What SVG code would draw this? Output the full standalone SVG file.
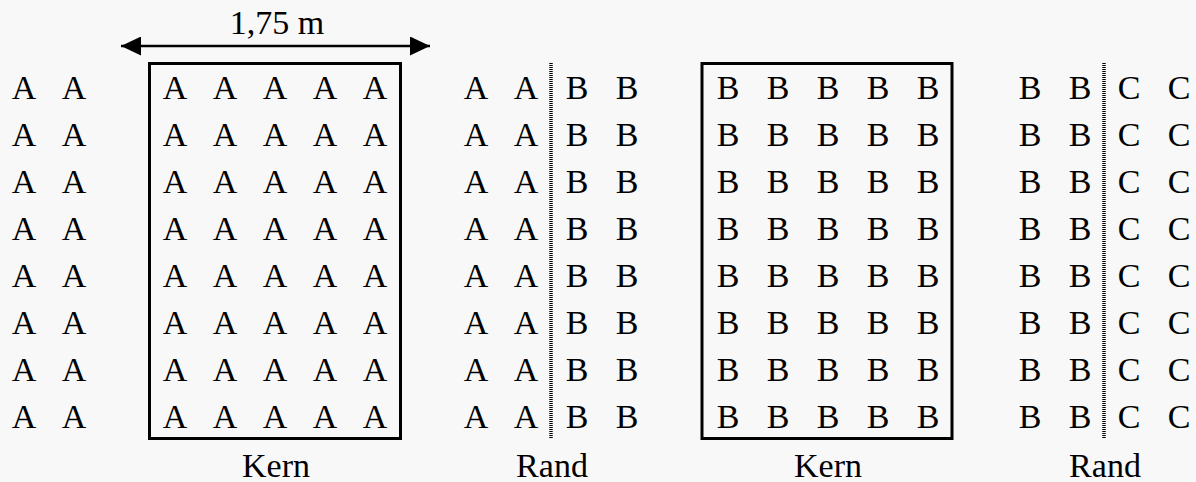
<svg xmlns="http://www.w3.org/2000/svg" width="1196" height="482" viewBox="0 0 1196 482">
  <style>
    text { font-family: "Liberation Serif", "Times New Roman", serif; font-size: 34px; fill: #000; text-anchor: middle; }
    .box { fill: none; stroke: #000; stroke-width: 3; }
    .divider { stroke: #000; stroke-width: 3.5; stroke-dasharray: 1 1; }
    .dim { stroke: #000; stroke-width: 2.5; }
  </style>
  <defs>
    <marker id="arrowhead" viewBox="0 0 20 19" refX="20" refY="9.5" markerWidth="20" markerHeight="19" markerUnits="userSpaceOnUse" orient="auto-start-reverse">
      <path d="M0 0 L20 9.5 L0 19 Z" fill="#000"/>
    </marker>
  </defs>
  <rect width="1196" height="482" fill="#f8f8f8"/>

  <!-- dimension line over the first core plot -->
  <g id="dimension">
    <line class="dim" x1="121" y1="46" x2="430" y2="46" marker-start="url(#arrowhead)" marker-end="url(#arrowhead)"/>
    <text x="277" y="34">1,75 m</text>
  </g>

  <!-- outer border rows A -->
  <g id="border-a">
    <text x="24 74" y="99">AA</text>
    <text x="24 74" y="146">AA</text>
    <text x="24 74" y="193">AA</text>
    <text x="24 74" y="240">AA</text>
    <text x="24 74" y="287">AA</text>
    <text x="24 74" y="334">AA</text>
    <text x="24 74" y="381">AA</text>
    <text x="24 74" y="428">AA</text>
  </g>

  <!-- core plot A -->
  <g id="kern-a">
    <rect class="box" x="149.5" y="63.5" width="251" height="375"/>
    <text x="175 225 275 325 375" y="99">AAAAA</text>
    <text x="175 225 275 325 375" y="146">AAAAA</text>
    <text x="175 225 275 325 375" y="193">AAAAA</text>
    <text x="175 225 275 325 375" y="240">AAAAA</text>
    <text x="175 225 275 325 375" y="287">AAAAA</text>
    <text x="175 225 275 325 375" y="334">AAAAA</text>
    <text x="175 225 275 325 375" y="381">AAAAA</text>
    <text x="175 225 275 325 375" y="428">AAAAA</text>
    <text x="276" y="477">Kern</text>
  </g>

  <!-- border A | B -->
  <g id="rand-ab">
    <line class="divider" x1="551" y1="63" x2="551" y2="439"/>
    <text x="476 526 577 627" y="99">AABB</text>
    <text x="476 526 577 627" y="146">AABB</text>
    <text x="476 526 577 627" y="193">AABB</text>
    <text x="476 526 577 627" y="240">AABB</text>
    <text x="476 526 577 627" y="287">AABB</text>
    <text x="476 526 577 627" y="334">AABB</text>
    <text x="476 526 577 627" y="381">AABB</text>
    <text x="476 526 577 627" y="428">AABB</text>
    <text x="552" y="477">Rand</text>
  </g>

  <!-- core plot B -->
  <g id="kern-b">
    <rect class="box" x="702" y="63.5" width="250" height="375"/>
    <text x="728 778 828 878 928" y="99">BBBBB</text>
    <text x="728 778 828 878 928" y="146">BBBBB</text>
    <text x="728 778 828 878 928" y="193">BBBBB</text>
    <text x="728 778 828 878 928" y="240">BBBBB</text>
    <text x="728 778 828 878 928" y="287">BBBBB</text>
    <text x="728 778 828 878 928" y="334">BBBBB</text>
    <text x="728 778 828 878 928" y="381">BBBBB</text>
    <text x="728 778 828 878 928" y="428">BBBBB</text>
    <text x="828" y="477">Kern</text>
  </g>

  <!-- border B | C -->
  <g id="rand-bc">
    <line class="divider" x1="1104" y1="63" x2="1104" y2="439"/>
    <text x="1030 1080 1129 1179" y="99">BBCC</text>
    <text x="1030 1080 1129 1179" y="146">BBCC</text>
    <text x="1030 1080 1129 1179" y="193">BBCC</text>
    <text x="1030 1080 1129 1179" y="240">BBCC</text>
    <text x="1030 1080 1129 1179" y="287">BBCC</text>
    <text x="1030 1080 1129 1179" y="334">BBCC</text>
    <text x="1030 1080 1129 1179" y="381">BBCC</text>
    <text x="1030 1080 1129 1179" y="428">BBCC</text>
    <text x="1105" y="477">Rand</text>
  </g>
</svg>
